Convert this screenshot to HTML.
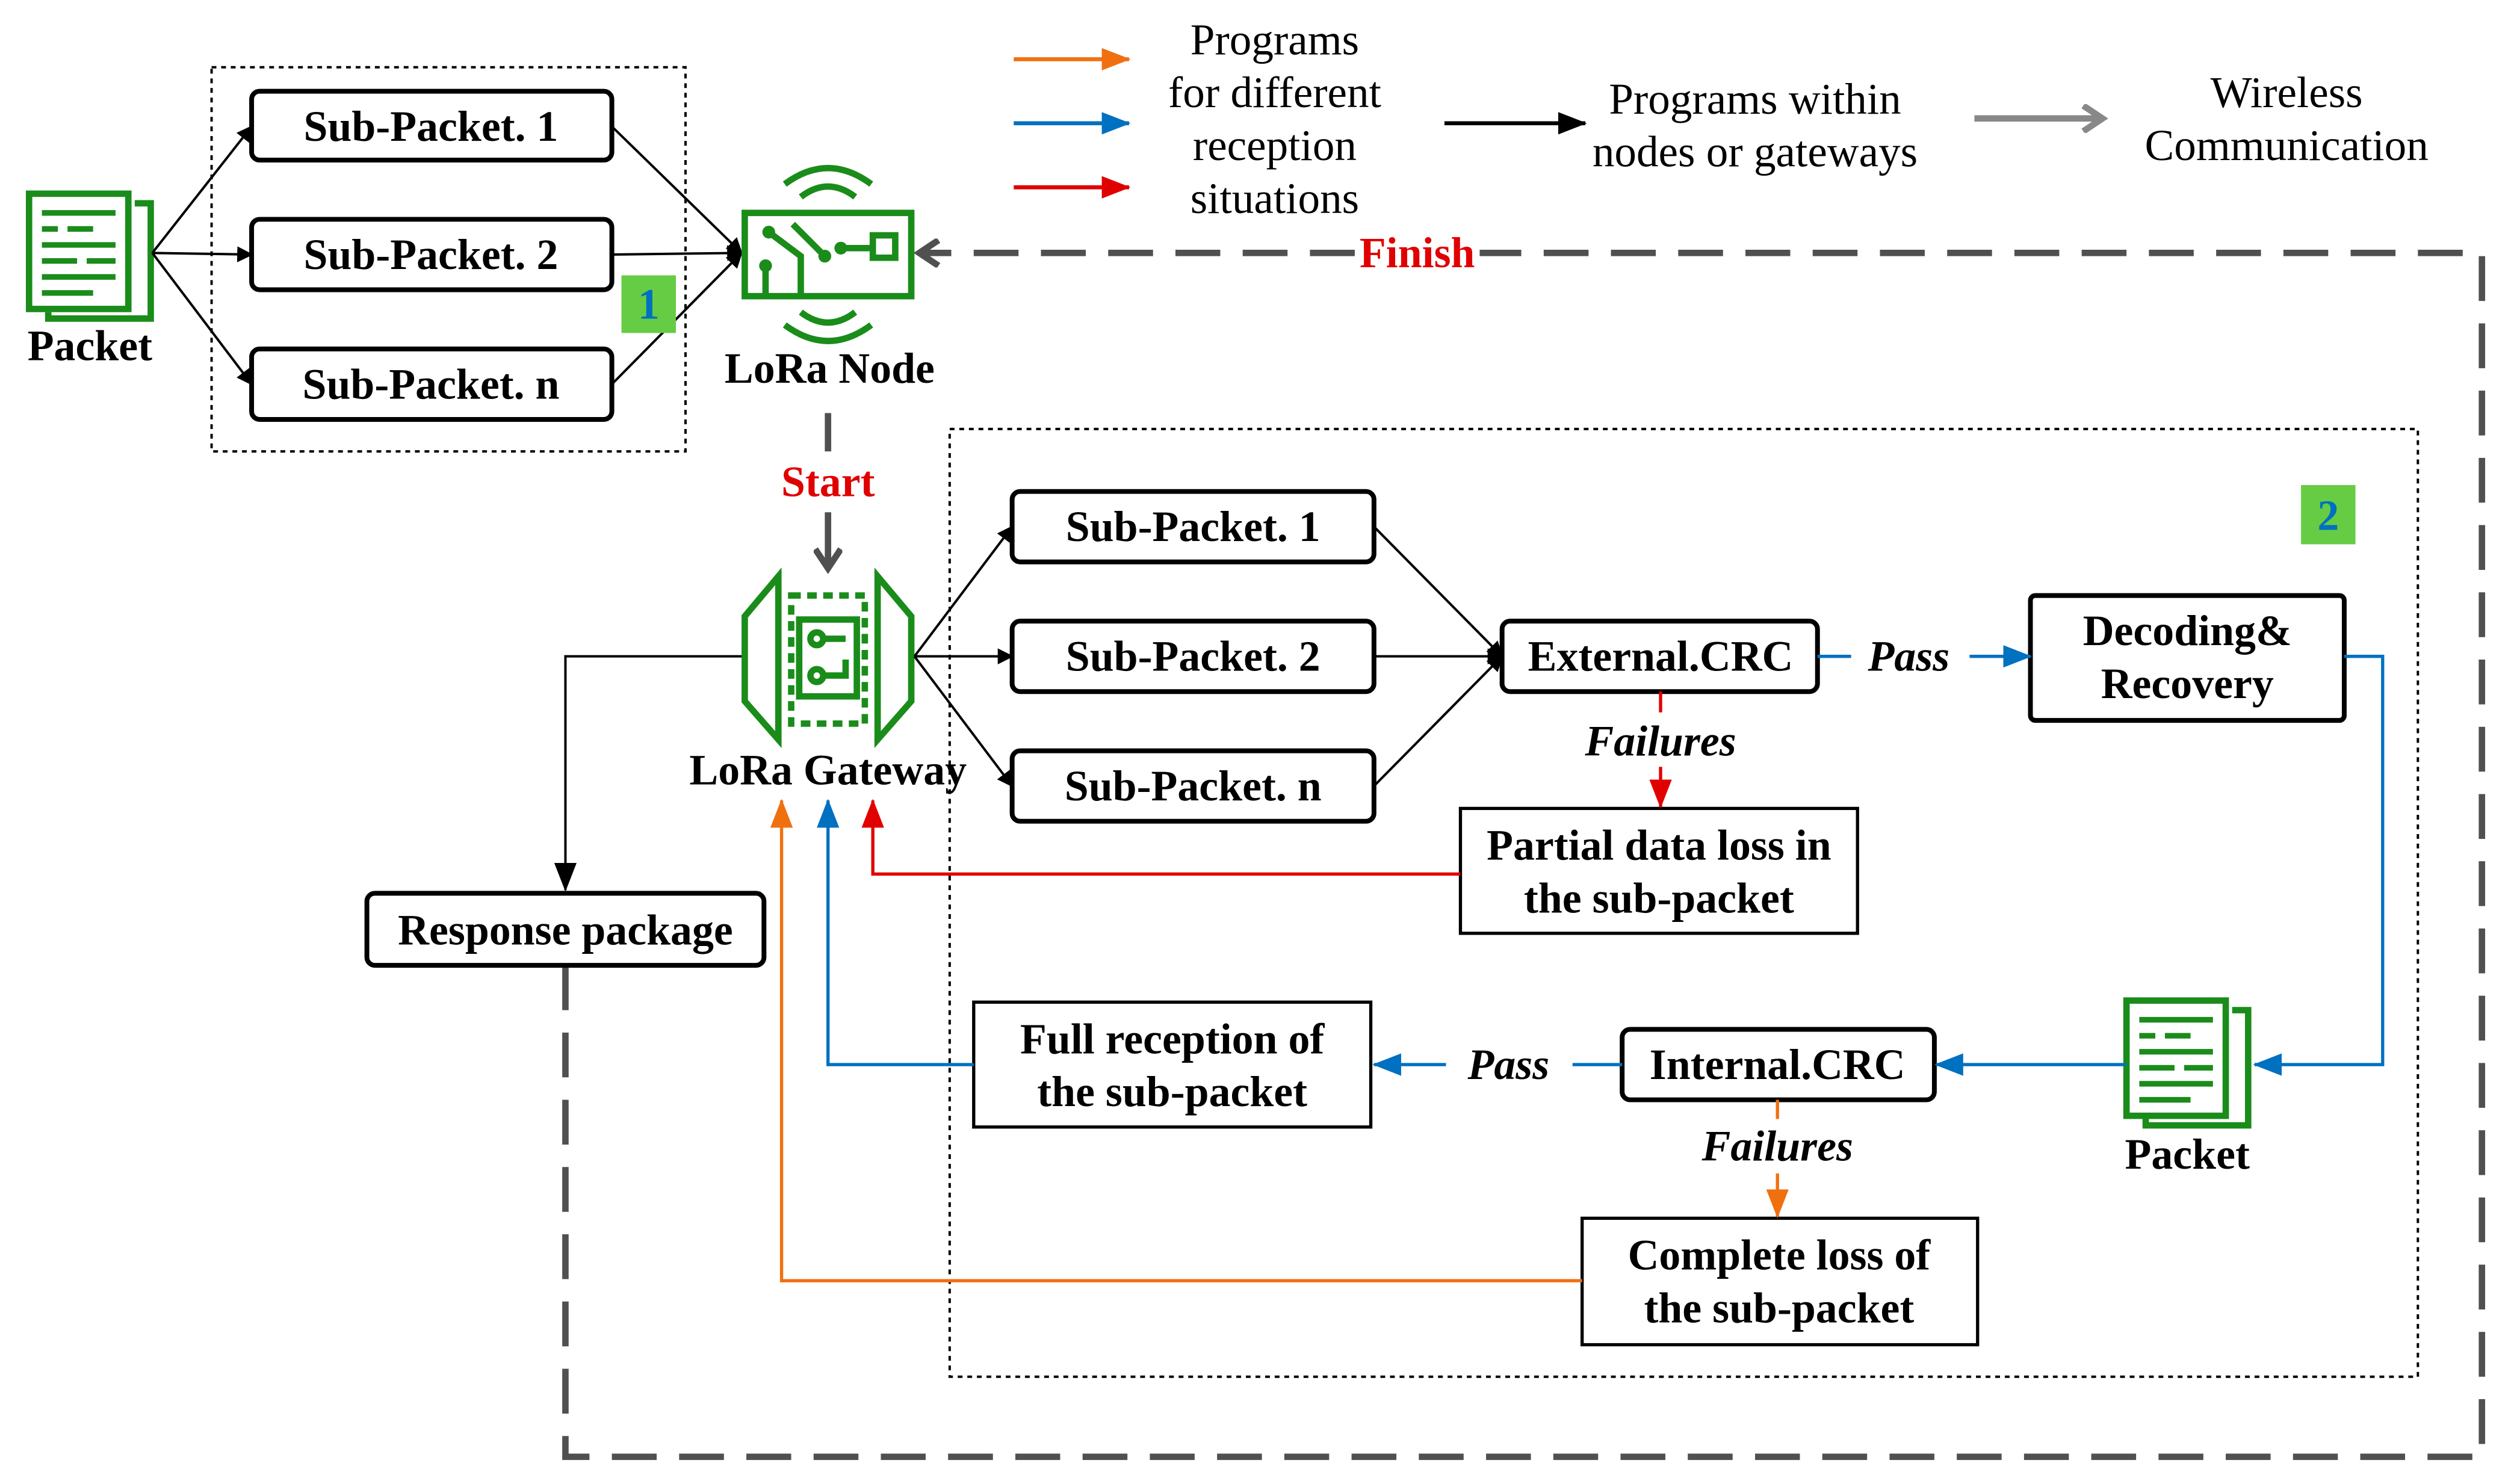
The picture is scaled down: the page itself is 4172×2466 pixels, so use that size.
<!DOCTYPE html>
<html><head><meta charset="utf-8"><style>
html,body{margin:0;padding:0;background:#fff;}
svg{display:block;}
text{font-family:"Liberation Serif",serif;}
.b{font-weight:bold;font-size:27px;}
.i{font-style:italic;font-weight:bold;font-size:27px;}
.l{font-size:27.5px;}
</style></head><body>
<svg width="4172" height="2466" viewBox="0 0 1568 927" xmlns="http://www.w3.org/2000/svg">
<defs>
<marker id="ak" markerWidth="10" markerHeight="10" refX="9" refY="5" orient="auto" markerUnits="userSpaceOnUse"><path d="M0,0 L10,5 L0,10 z" fill="#000"/></marker>
<marker id="ab" markerWidth="18" markerHeight="14" refX="17" refY="7" orient="auto" markerUnits="userSpaceOnUse"><path d="M0,0 L18,7 L0,14 z" fill="#0070c0"/></marker>
<marker id="ar" markerWidth="18" markerHeight="14" refX="17" refY="7" orient="auto" markerUnits="userSpaceOnUse"><path d="M0,0 L18,7 L0,14 z" fill="#e00000"/></marker>
<marker id="ao" markerWidth="18" markerHeight="14" refX="17" refY="7" orient="auto" markerUnits="userSpaceOnUse"><path d="M0,0 L18,7 L0,14 z" fill="#f07010"/></marker>
<marker id="abk" markerWidth="18" markerHeight="14" refX="17" refY="7" orient="auto" markerUnits="userSpaceOnUse"><path d="M0,0 L18,7 L0,14 z" fill="#000"/></marker>
<marker id="ag" markerWidth="18" markerHeight="18" refX="14" refY="9" orient="auto" markerUnits="userSpaceOnUse"><path d="M2,1 L14,9 L2,17" fill="none" stroke="#505050" stroke-width="4"/></marker>
<marker id="agl" markerWidth="18" markerHeight="18" refX="14" refY="9" orient="auto" markerUnits="userSpaceOnUse"><path d="M2,1 L14,9 L2,17" fill="none" stroke="#888" stroke-width="4"/></marker>
<g id="doc">
<rect x="0" y="0" width="62" height="72" fill="#fff" stroke="#1a8c1a" stroke-width="4"/>
<path d="M66,6 L76,6 L76,78 L12,78 L12,74" fill="none" stroke="#1a8c1a" stroke-width="4"/>
<g stroke="#1a8c1a" stroke-width="3.5"><line x1="8" y1="12" x2="54" y2="12"/><line x1="8" y1="22" x2="18" y2="22"/><line x1="24" y1="22" x2="40" y2="22"/><line x1="8" y1="32" x2="54" y2="32"/><line x1="8" y1="42" x2="30" y2="42"/><line x1="36" y1="42" x2="54" y2="42"/><line x1="8" y1="52" x2="54" y2="52"/><line x1="8" y1="62" x2="40" y2="62"/></g>
</g>
</defs>

<line x1="633" y1="37" x2="705" y2="37" stroke="#f07010" stroke-width="2.5" marker-end="url(#ao)"/>
<line x1="633" y1="77" x2="705" y2="77" stroke="#0070c0" stroke-width="2.5" marker-end="url(#ab)"/>
<line x1="633" y1="117" x2="705" y2="117" stroke="#e00000" stroke-width="2.5" marker-end="url(#ar)"/>
<g class="l" text-anchor="middle">
<text x="796" y="34">Programs</text><text x="796" y="67">for different</text><text x="796" y="100">reception</text><text x="796" y="133">situations</text>
<text x="1096" y="71">Programs within</text><text x="1096" y="104">nodes or gateways</text>
<text x="1428" y="67">Wireless</text><text x="1428" y="100">Communication</text>
</g>
<line x1="902" y1="77" x2="990" y2="77" stroke="#000" stroke-width="2.5" marker-end="url(#abk)"/>
<line x1="1233" y1="74" x2="1313" y2="74" stroke="#888" stroke-width="4" marker-end="url(#agl)"/>

<rect x="132" y="42" width="296" height="240" fill="none" stroke="#000" stroke-width="1.5" stroke-dasharray="3,3"/>
<rect x="593" y="268" width="917" height="592" fill="none" stroke="#000" stroke-width="1.5" stroke-dasharray="3,3"/>

<path d="M353,603 L353,910 L1550,910 L1550,158 L924,158" fill="none" stroke="#505050" stroke-width="4" stroke-dasharray="28,14"/>
<path d="M846,158 L574,158" fill="none" stroke="#505050" stroke-width="4" stroke-dasharray="28,14" marker-end="url(#ag)"/>
<text x="885" y="167" text-anchor="middle" class="b" fill="#e00000">Finish</text>
<line x1="517" y1="258" x2="517" y2="282" stroke="#505050" stroke-width="4"/>
<line x1="517" y1="320" x2="517" y2="355" stroke="#505050" stroke-width="4" marker-end="url(#ag)"/>
<text x="517" y="310" text-anchor="middle" class="b" fill="#e00000">Start</text>

<use href="#doc" x="18" y="121"/>
<text x="56" y="225" text-anchor="middle" class="b">Packet</text>
<g stroke="#000" stroke-width="1.5" fill="none">
<line x1="95" y1="158" x2="157" y2="79" marker-end="url(#ak)"/>
<line x1="95" y1="158" x2="157" y2="159" marker-end="url(#ak)"/>
<line x1="95" y1="158" x2="157" y2="240" marker-end="url(#ak)"/>
<line x1="382" y1="79" x2="463" y2="158" marker-end="url(#ak)"/>
<line x1="382" y1="159" x2="463" y2="158" marker-end="url(#ak)"/>
<line x1="382" y1="240" x2="463" y2="158" marker-end="url(#ak)"/>
</g>
<g fill="#fff" stroke="#000" stroke-width="3">
<rect x="157" y="57" width="225" height="43" rx="5"/>
<rect x="157" y="137" width="225" height="44" rx="5"/>
<rect x="157" y="218" width="225" height="44" rx="5"/>
</g>
<g class="b" text-anchor="middle">
<text x="269" y="88">Sub-Packet. 1</text><text x="269" y="168">Sub-Packet. 2</text><text x="269" y="249">Sub-Packet. n</text>
</g>
<rect x="388" y="172" width="34" height="36" fill="#66cc44"/>
<text x="405" y="199" text-anchor="middle" class="b" fill="#0070c0">1</text>

<g stroke="#1a8c1a" stroke-width="4" fill="none">
<rect x="465" y="133" width="104" height="52" fill="#fff"/>
<path d="M500,123 Q517,110 534,123"/><path d="M490,115 Q517,95 544,115"/>
<path d="M500,195 Q517,208 534,195"/><path d="M490,203 Q517,223 544,203"/>
<path d="M480,145 L500,160 L500,185"/><path d="M495,140 L515,160"/><path d="M525,155 L545,155"/>
<rect x="545" y="147" width="14" height="14"/><path d="M478,185 L478,168"/>
</g>
<circle cx="480" cy="145" r="4" fill="#1a8c1a"/><circle cx="515" cy="160" r="4" fill="#1a8c1a"/><circle cx="525" cy="155" r="4" fill="#1a8c1a"/><circle cx="478" cy="166" r="4" fill="#1a8c1a"/>
<text x="518" y="239" text-anchor="middle" class="b">LoRa Node</text>

<g stroke="#1a8c1a" stroke-width="4" fill="none">
<path d="M486,360 L465,385 L465,438 L486,462 Z"/>
<path d="M548,360 L569,385 L569,438 L548,462 Z"/>
<rect x="494" y="372" width="46" height="80" stroke-dasharray="6,4"/>
<rect x="499" y="387" width="36" height="48"/>
<circle cx="510" cy="399" r="4"/><circle cx="510" cy="422" r="4"/>
<path d="M514,399 L528,399 M514,422 L528,422 L528,412"/>
</g>
<text x="517" y="490" text-anchor="middle" class="b">LoRa Gateway</text>

<g stroke="#000" stroke-width="1.5" fill="none">
<line x1="571" y1="410" x2="632" y2="329" marker-end="url(#ak)"/>
<line x1="571" y1="410" x2="632" y2="410" marker-end="url(#ak)"/>
<line x1="571" y1="410" x2="632" y2="491" marker-end="url(#ak)"/>
<line x1="858" y1="329" x2="938" y2="410" marker-end="url(#ak)"/>
<line x1="858" y1="410" x2="938" y2="410" marker-end="url(#ak)"/>
<line x1="858" y1="491" x2="938" y2="410" marker-end="url(#ak)"/>
<path d="M463,410 L353,410 L353,556" marker-end="url(#abk)"/>
</g>
<g fill="#fff" stroke="#000" stroke-width="3">
<rect x="632" y="307" width="226" height="44" rx="5"/>
<rect x="632" y="388" width="226" height="44" rx="5"/>
<rect x="632" y="469" width="226" height="44" rx="5"/>
<rect x="938" y="388" width="197" height="44" rx="5"/>
<rect x="1268" y="372" width="196" height="78" rx="3"/>
<rect x="1013" y="643" width="195" height="44" rx="5"/>
<rect x="229" y="558" width="248" height="45" rx="5"/>
</g>
<g fill="#fff" stroke="#000" stroke-width="2">
<rect x="608" y="626" width="248" height="78"/>
<rect x="912" y="505" width="248" height="78"/>
<rect x="988" y="761" width="247" height="79"/>
</g>
<g class="b" text-anchor="middle">
<text x="745" y="338">Sub-Packet. 1</text><text x="745" y="419">Sub-Packet. 2</text><text x="745" y="500">Sub-Packet. n</text>
<text x="1037" y="419">External.CRC</text>
<text x="1366" y="403">Decoding&amp;</text><text x="1366" y="436">Recovery</text>
<text x="1110" y="674">Internal.CRC</text>
<text x="353" y="590">Response package</text>
<text x="732" y="658">Full reception of</text><text x="732" y="691">the sub-packet</text>
<text x="1036" y="537">Partial data loss in</text><text x="1036" y="570">the sub-packet</text>
<text x="1111" y="793">Complete loss of</text><text x="1111" y="826">the sub-packet</text>
</g>
<rect x="1437" y="303" width="34" height="37" fill="#66cc44"/>
<text x="1454" y="331" text-anchor="middle" class="b" fill="#0070c0">2</text>

<use href="#doc" x="1328" y="625"/>
<text x="1366" y="730" text-anchor="middle" class="b">Packet</text>

<g stroke="#0070c0" stroke-width="2" fill="none">
<line x1="1135" y1="410" x2="1156" y2="410"/>
<line x1="1230" y1="410" x2="1268" y2="410" marker-end="url(#ab)"/>
<path d="M1464,410 L1488,410 L1488,665 L1408,665" marker-end="url(#ab)"/>
<line x1="1328" y1="665" x2="1209" y2="665" marker-end="url(#ab)"/>
<line x1="1013" y1="665" x2="982" y2="665"/>
<line x1="903" y1="665" x2="858" y2="665" marker-end="url(#ab)"/>
<path d="M608,665 L517,665 L517,500" marker-end="url(#ab)"/>
</g>
<text x="1192" y="419" text-anchor="middle" class="i">Pass</text>
<text x="942" y="674" text-anchor="middle" class="i">Pass</text>

<g stroke="#e00000" stroke-width="2" fill="none">
<line x1="1037" y1="432" x2="1037" y2="445"/>
<line x1="1037" y1="479" x2="1037" y2="504" marker-end="url(#ar)"/>
<path d="M912,546 L545,546 L545,500" marker-end="url(#ar)"/>
</g>
<text x="1037" y="472" text-anchor="middle" class="i">Failures</text>

<g stroke="#f07010" stroke-width="2" fill="none">
<line x1="1110" y1="687" x2="1110" y2="699"/>
<line x1="1110" y1="733" x2="1110" y2="760" marker-end="url(#ao)"/>
<path d="M988,800 L488,800 L488,500" marker-end="url(#ao)"/>
</g>
<text x="1110" y="725" text-anchor="middle" class="i">Failures</text>
</svg>
</body></html>
